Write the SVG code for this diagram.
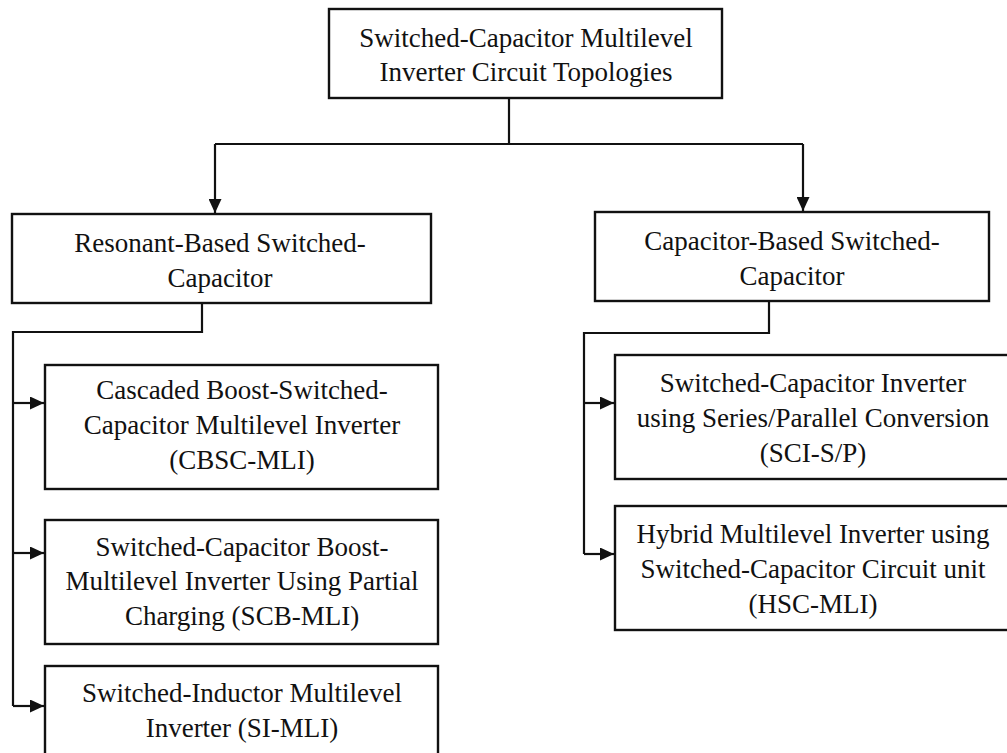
<svg xmlns="http://www.w3.org/2000/svg" width="1007" height="753" viewBox="0 0 1007 753">
<defs>
<style>
.box{fill:#fff;stroke:#111;stroke-width:2.4}
.t{font-family:"Liberation Serif","Times New Roman",serif;font-size:27px;fill:#111;text-anchor:middle}
.c{fill:none;stroke:#111;stroke-width:2.2}
</style>
<marker id="ah" viewBox="0 0 14 13" refX="14" refY="6.5" markerWidth="14" markerHeight="13" markerUnits="userSpaceOnUse" orient="auto">
<path d="M0,0 L14,6.5 L0,13 Z" fill="#111"/>
</marker>
</defs>
<rect width="1007" height="753" fill="#fff"/>
<g id="connectors">
<path class="c" d="M509,98 V144 M215,144 H803"/>
<path class="c" d="M215,144 V213" marker-end="url(#ah)"/>
<path class="c" d="M803,144 V211" marker-end="url(#ah)"/>
<path class="c" d="M202,303 V332 H13 V706"/>
<path class="c" d="M13,403 H44" marker-end="url(#ah)"/>
<path class="c" d="M13,553 H44" marker-end="url(#ah)"/>
<path class="c" d="M13,706 H44" marker-end="url(#ah)"/>
<path class="c" d="M769,301 V333 H584 V554"/>
<path class="c" d="M584,403 H614" marker-end="url(#ah)"/>
<path class="c" d="M584,554 H614" marker-end="url(#ah)"/>
</g>
<g id="root">
<rect class="box" x="329" y="9" width="393" height="89"/>
<text class="t" x="526" y="47">Switched-Capacitor Multilevel</text>
<text class="t" x="526" y="81">Inverter Circuit Topologies</text>
</g>
<g id="resonant">
<rect class="box" x="12" y="214" width="419" height="89"/>
<text class="t" x="220" y="252">Resonant-Based Switched-</text>
<text class="t" x="220" y="287">Capacitor</text>
</g>
<g id="capacitor">
<rect class="box" x="595" y="212" width="394" height="89"/>
<text class="t" x="792" y="250">Capacitor-Based Switched-</text>
<text class="t" x="792" y="285">Capacitor</text>
</g>
<g id="cbsc">
<rect class="box" x="45" y="365" width="393" height="124"/>
<text class="t" x="242" y="399">Cascaded Boost-Switched-</text>
<text class="t" x="242" y="434">Capacitor Multilevel Inverter</text>
<text class="t" x="242" y="469">(CBSC-MLI)</text>
</g>
<g id="scb">
<rect class="box" x="45" y="520" width="393" height="124"/>
<text class="t" x="242" y="556">Switched-Capacitor Boost-</text>
<text class="t" x="242" y="590">Multilevel Inverter Using Partial</text>
<text class="t" x="242" y="625">Charging (SCB-MLI)</text>
</g>
<g id="si">
<rect class="box" x="45" y="666" width="393" height="100"/>
<text class="t" x="242" y="702">Switched-Inductor Multilevel</text>
<text class="t" x="242" y="737">Inverter (SI-MLI)</text>
</g>
<g id="scisp">
<rect class="box" x="615" y="355" width="396" height="124"/>
<text class="t" x="813" y="392">Switched-Capacitor Inverter</text>
<text class="t" x="813" y="427">using Series/Parallel Conversion</text>
<text class="t" x="813" y="462">(SCI-S/P)</text>
</g>
<g id="hsc">
<rect class="box" x="615" y="506" width="396" height="124"/>
<text class="t" x="813" y="543">Hybrid Multilevel Inverter using</text>
<text class="t" x="813" y="578">Switched-Capacitor Circuit unit</text>
<text class="t" x="813" y="613">(HSC-MLI)</text>
</g>
</svg>
